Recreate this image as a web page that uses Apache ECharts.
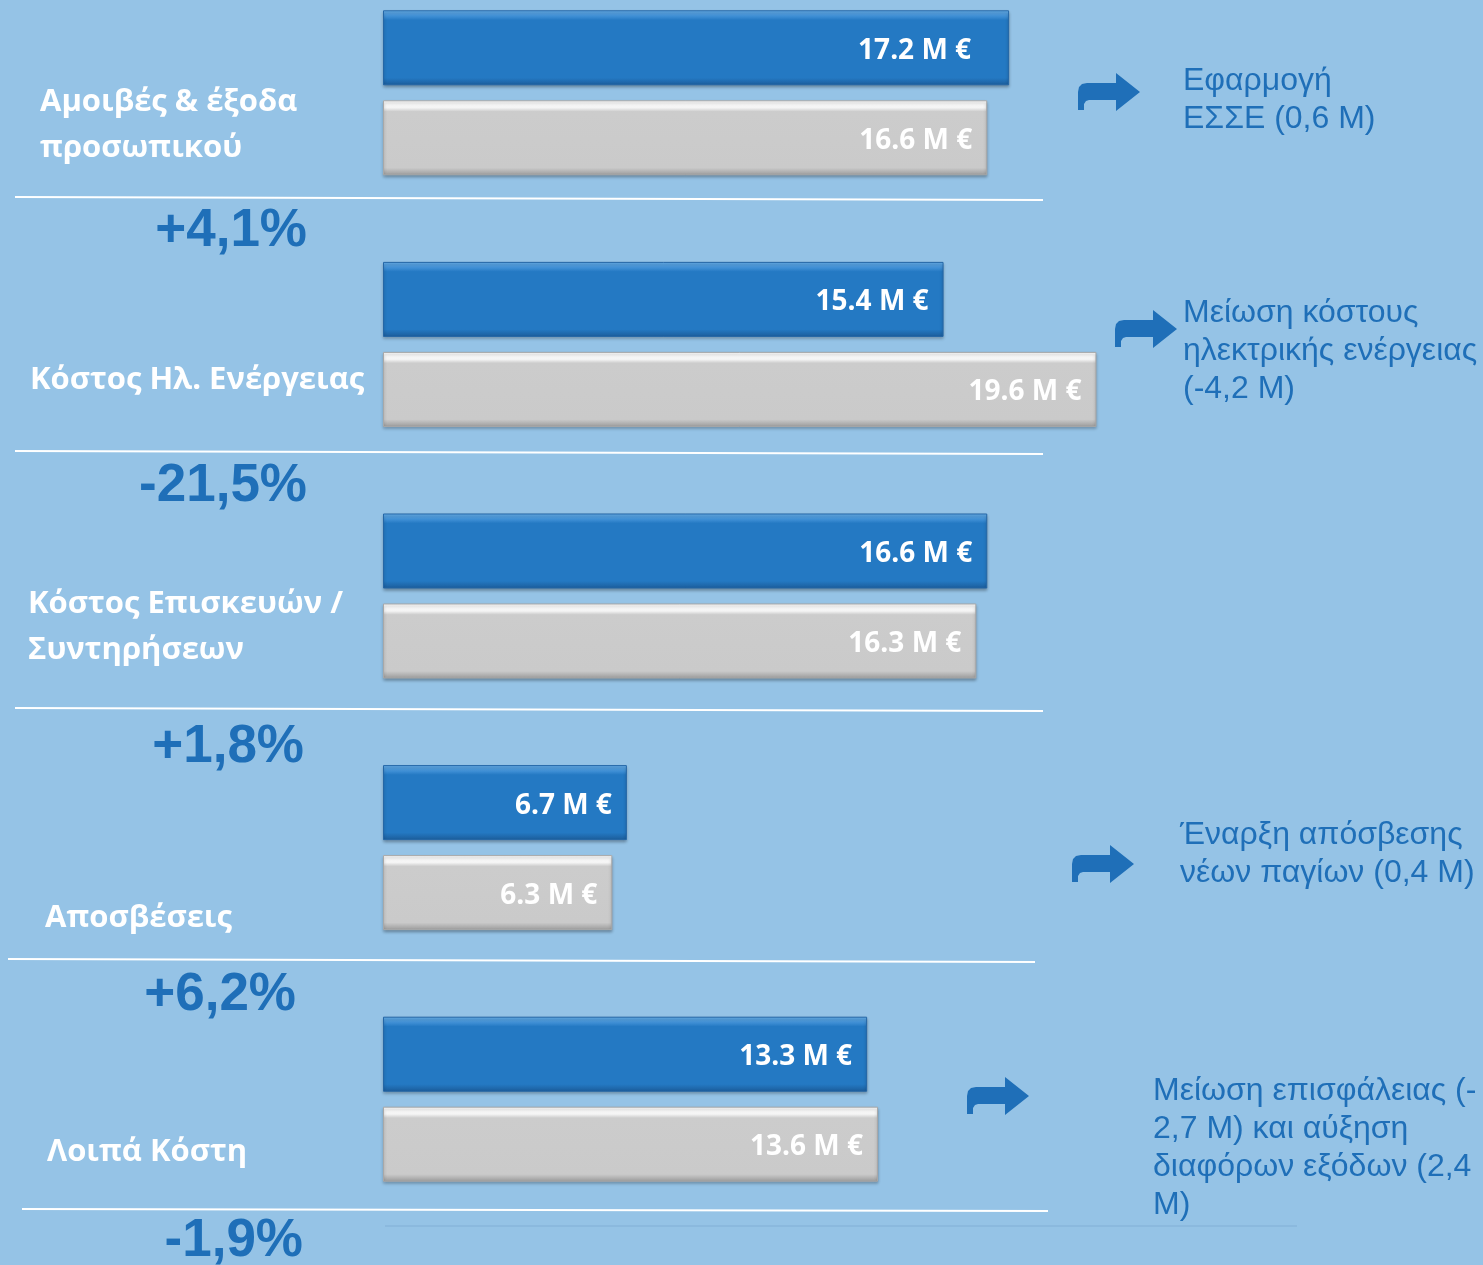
<!DOCTYPE html>
<html>
<head>
<meta charset="utf-8">
<script src="https://cdn.jsdelivr.net/npm/echarts@6/dist/echarts.min.js"></script>
<style>
  html, body { margin: 0; padding: 0; background: #95c3e6; }
  #chart { width: 1483px; height: 1265px; }
</style>
</head>
<body>
<div id="chart"></div>
<script>
// κατηγορίες εξόδων
const categories = [
  'Αμοιβές & έξοδα\nπροσωπικού',
  'Κόστος Ηλ. Ενέργειας',
  'Κόστος Επισκευών /\nΣυντηρήσεων',
  'Αποσβέσεις',
  'Λοιπά Κόστη'
]
// τρέχουσα χρήση (μπλε) / προηγούμενη χρήση (γκρι), σε Μ €
const currentValues = [17.2, 15.4, 16.6, 6.7, 13.3]
const previousValues = [16.6, 19.6, 16.3, 6.3, 13.6]
const changeLabels = ['+4,1%', '-21,5%', '+1,8%', '+6,2%', '-1,9%']
const notes = [
  'Εφαρμογή\nΕΣΣΕ (0,6 Μ)',
  'Μείωση κόστους\nηλεκτρικής ενέργειας\n(-4,2 Μ)',
  'Έναρξη απόσβεσης\nνέων παγίων (0,4 Μ)',
  'Μείωση επισφάλειας (-\n2,7 Μ) και αύξηση\nδιαφόρων εξόδων (2,4\nΜ)'
]

const BLUE_TEXT = '#1f6fb8'

// θέσεις για τα κείμενα γύρω από το διάγραμμα
const catLabelPos = [[40, 125], [30, 380], [28, 627], [45, 918], [47, 1152]]
const changePos = [[307, 231], [307, 486], [304, 747], [296, 995], [303, 1241]]
const notePos = [[1183, 100], [1183, 351], [1180, 854], [1153, 1148]]
const arrowPos = [[1078, 73], [1115, 310], [1072, 845], [967, 1077]]
const sepLines = [[15, 197, 1043, 200], [15, 451, 1043, 454], [15, 708, 1043, 711], [8, 959, 1035, 962], [22, 1209, 1048, 1211]]

// καμπύλο βέλος
const arrowPoints = [[0, 37], [0, 19], [1, 14], [4, 11], [9, 10], [38, 10], [38, 0], [62, 19], [38, 38], [38, 27], [11, 27], [8, 28], [6, 31], [6, 37]]

const blueFill = new echarts.graphic.LinearGradient(0, 0, 0, 1, [
  { offset: 0, color: '#6ab4f0' },
  { offset: 0.08, color: '#3f8fd5' },
  { offset: 0.13, color: '#2479c3' },
  { offset: 0.9, color: '#2479c3' },
  { offset: 1, color: '#1b5c9a' }
])
const grayFill = new echarts.graphic.LinearGradient(0, 0, 0, 1, [
  { offset: 0, color: '#ffffff' },
  { offset: 0.1, color: '#f4f4f4' },
  { offset: 0.15, color: '#cccccc' },
  { offset: 0.9, color: '#cacaca' },
  { offset: 1, color: '#9a9a9a' }
])

const labelStyle = {
  show: true,
  position: 'insideRight',
  distance: 15,
  offset: [0, 3],
  color: '#ffffff',
  fontFamily: 'Open Sans',
  fontWeight: 'bold',
  fontSize: 28,
  formatter: p => p.value.toFixed(1) + ' M €'
}

let graphics = []

categories.forEach((c, i) => {
  graphics.push({
    type: 'text',
    x: catLabelPos[i][0],
    y: catLabelPos[i][1],
    style: {
      text: c,
      fill: '#ffffff',
      font: 'bold 31px "Open Sans"',
      lineHeight: 46,
      align: 'left',
      verticalAlign: 'middle'
    }
  })
  graphics.push({
    type: 'text',
    x: changePos[i][0],
    y: changePos[i][1],
    style: {
      text: changeLabels[i],
      fill: BLUE_TEXT,
      font: 'bold 53px "Liberation Sans"',
      align: 'right',
      verticalAlign: 'middle'
    }
  })
})

sepLines.forEach(l => {
  graphics.push({
    type: 'line',
    shape: { x1: l[0], y1: l[1], x2: l[2], y2: l[3] },
    style: { stroke: '#ffffff', lineWidth: 2 }
  })
})
graphics.push({
  type: 'line',
  shape: { x1: 385, y1: 1226, x2: 1297, y2: 1226 },
  style: { stroke: '#8bb9de', lineWidth: 2 }
})

notes.forEach((n, i) => {
  graphics.push({
    type: 'text',
    x: notePos[i][0],
    y: notePos[i][1],
    style: {
      text: n,
      fill: BLUE_TEXT,
      font: '32px "Liberation Sans"',
      lineHeight: 38,
      align: 'left',
      verticalAlign: 'middle'
    }
  })
  graphics.push({
    type: 'polygon',
    x: arrowPos[i][0],
    y: arrowPos[i][1],
    shape: { points: arrowPoints },
    style: { fill: BLUE_TEXT }
  })
})

const option = {
  backgroundColor: '#95c3e6',
  animation: false,
  grid: {
    left: 383,
    width: 1092,
    top: -33,
    height: 1258,
    outerBoundsMode: 'none'
  },
  xAxis: {
    type: 'value',
    min: 0,
    max: 30,
    show: false
  },
  yAxis: {
    type: 'category',
    inverse: true,
    data: categories,
    show: false
  },
  series: [{
    name: 'Τρέχουσα χρήση',
    type: 'bar',
    barWidth: 75,
    barGap: '20%',
    data: currentValues.map((v, i) => i === 0 ? { value: v, label: { distance: 38 } } : v),
    label: labelStyle,
    itemStyle: {
      color: blueFill,
      borderColor: '#2466a6',
      borderWidth: 1,
      shadowColor: 'rgba(0,0,0,0.3)',
      shadowBlur: 3,
      shadowOffsetY: 2
    }
  }, {
    name: 'Προηγούμενη χρήση',
    type: 'bar',
    barWidth: 75,
    data: previousValues,
    label: labelStyle,
    itemStyle: {
      color: grayFill,
      borderColor: '#a8a8a8',
      borderWidth: 1,
      shadowColor: 'rgba(0,0,0,0.3)',
      shadowBlur: 3,
      shadowOffsetY: 2
    }
  }],
  graphic: graphics
}

let myChart = echarts.init(document.getElementById('chart'))
myChart.setOption(option)
window.onresize = myChart.resize
</script>
</body>
</html>
